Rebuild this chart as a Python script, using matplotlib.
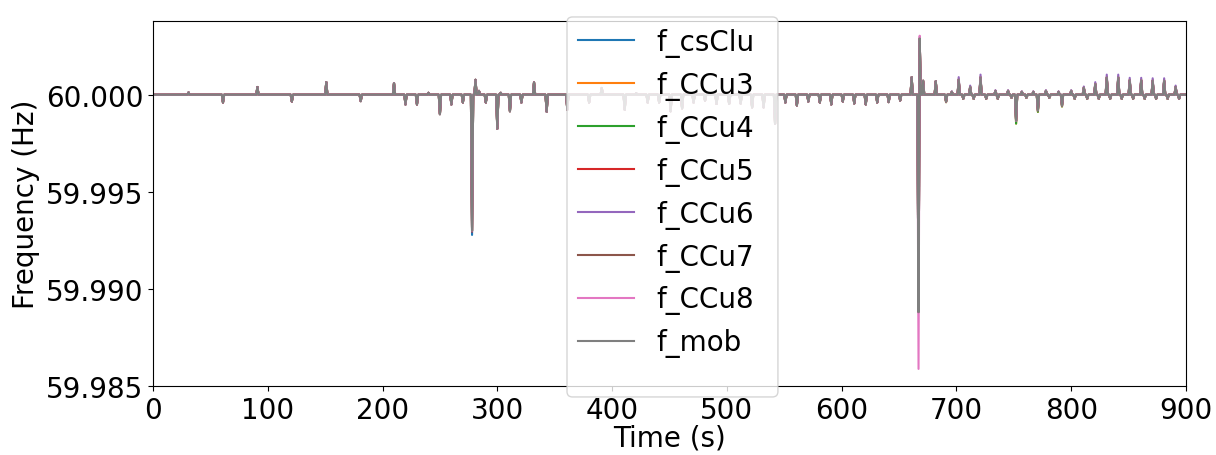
import numpy as np
import matplotlib
matplotlib.use("Agg")
import matplotlib.pyplot as plt
from matplotlib.patches import FancyBboxPatch
from matplotlib.transforms import IdentityTransform

# ---------------- data ----------------
series_names = ['f_csClu', 'f_CCu3', 'f_CCu4', 'f_CCu5', 'f_CCu6', 'f_CCu7', 'f_CCu8', 'f_mob']
nominal_hz = 60.0
t_end = 900

# shared frequency excursions: time (s) and deviation from 60 Hz (Hz)
event_t = [31, 61, 91, 121, 151, 181, 210, 220, 230, 240, 250, 260, 270,
           281, 284, 290, 300, 303, 311, 321, 332, 343,
           361, 380, 391, 411, 421, 431, 441, 451, 461, 471, 481, 491,
           502, 512, 522, 532, 542, 551, 561, 571, 581, 591, 601, 611,
           621, 631, 641, 651, 661, 671, 682, 691, 696, 702, 706, 712,
           715, 721, 726, 734, 736, 745, 748, 752, 757, 761, 767, 771,
           778, 781, 789, 792, 800, 803, 811, 814, 821, 824, 831, 834,
           841, 844, 851, 854, 861, 864, 871, 874, 881, 884, 891, 894]
event_dev = [0.00012, -0.00040, 0.00040, -0.00035, 0.00065, -0.00033, 0.00060,
             -0.00050, -0.00050, 0.00010, -0.00100, -0.00050, -0.00040,
             0.00077, 0.00020, -0.00040, -0.00175, 0.00010, -0.00085,
             -0.00040, 0.00064, -0.00087,
             -0.00077, -0.00040, 0.00035, -0.00077, 0.00008, -0.00040,
             -0.00040, -0.00085, -0.00070, -0.00040, -0.00030, -0.00047,
             -0.00047, -0.00045, -0.00065, -0.00065, -0.00150, -0.00040,
             -0.00055, -0.00035, -0.00040, -0.00050, -0.00035, -0.00045,
             -0.00050, -0.00040, -0.00038, -0.00030, 0.00090, 0.00072,
             0.00070, -0.00035, 0.00015, 0.00077, -0.00020, 0.00040,
             -0.00020, 0.00088, -0.00020, 0.00020, -0.00020, 0.00020,
             -0.00015, -0.00135, 0.00015, -0.00015, 0.00015, -0.00080,
             0.00020, -0.00015, 0.00015, -0.00055, 0.00020, -0.00020,
             0.00036, -0.00020, 0.00055, -0.00020, 0.00088, -0.00020,
             0.00088, -0.00020, 0.00074, -0.00020, 0.00074, -0.00020,
             0.00072, -0.00020, 0.00072, -0.00020, 0.00040, -0.00020]

# large disturbances, per series
dip1_t = 278
dip1_min = [59.99278, 59.99300, 59.99300, 59.99295, 59.99300, 59.99300, 59.99300, 59.99300]
dip2_t = 667
dip2_min = [59.98880, 59.98880, 59.98880, 59.98880, 59.98880, 59.98880, 59.98588, 59.98880]
peak2_t = 668
peak2_max = [60.00290, 60.00290, 60.00290, 60.00290, 60.00290, 60.00290, 60.00304, 60.00290]

# after ~690 s the series separate slightly
split_t = 690
late_up_gain = [1.00, 1.05, 1.00, 1.00, 1.18, 1.00, 1.00, 1.00]
late_down_gain = [1.00, 1.10, 1.10, 1.00, 1.00, 1.00, 1.00, 1.00]

# ---------------- figure ----------------
plt.rcParams['font.size'] = 20
fig = plt.figure(figsize=(12.16, 4.56), dpi=100)
ax = fig.add_axes([0.1258, 0.1513, 0.8495, 0.8005])

time = np.arange(0, t_end + 1, 1.0)
for i, name in enumerate(series_names):
    f = np.full(time.shape, nominal_hz)
    for t, d in zip(event_t, event_dev):
        if t >= split_t:
            d = d * (late_up_gain[i] if d > 0 else late_down_gain[i])
        f[int(t)] = nominal_hz + d
    f[dip1_t] = dip1_min[i]
    f[dip2_t] = dip2_min[i]
    f[peak2_t] = peak2_max[i]
    ax.plot(time, f, label=name, linewidth=1.5)

ax.set_xlim(0, 900)
ax.set_ylim(59.985, 60.0038)
ax.set_yticks([59.985, 59.990, 59.995, 60.000])
ax.yaxis.set_major_formatter(matplotlib.ticker.FormatStrFormatter('%.3f'))
ax.set_xlabel('Time (s)', labelpad=0)
ax.set_ylabel('Frequency (Hz)')

leg = ax.legend(loc='upper left', bbox_to_anchor=(0.401, 1.011), borderaxespad=0,
                labelspacing=0.5, frameon=False)

# legend frame (taller than the entries, as in the reference)
(x0, y0) = ax.transAxes.transform((0.4008, -0.030))
(x1, y1) = ax.transAxes.transform((0.6050, 1.011))
frame = FancyBboxPatch((x0, y0), x1 - x0, y1 - y0,
                       boxstyle="round,pad=0,rounding_size=5.5",
                       facecolor='white', edgecolor='0.8', alpha=0.8,
                       linewidth=1.0, transform=IdentityTransform(),
                       clip_on=False, zorder=4.9)
ax.add_artist(frame)

fig.savefig('out.png', dpi=100)
